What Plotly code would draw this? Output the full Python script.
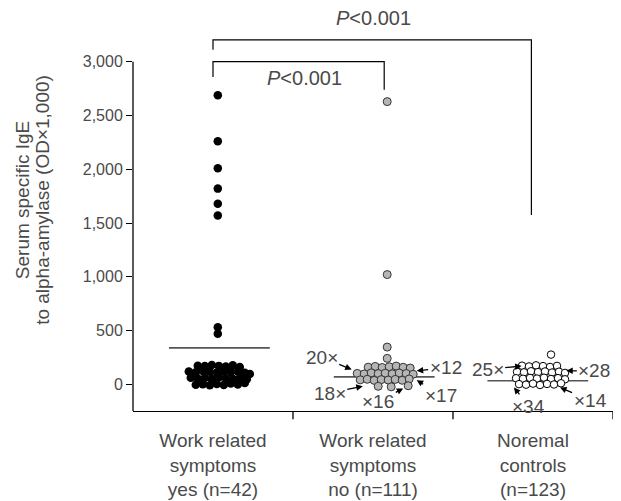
import plotly.graph_objects as go

# ---------------- data ----------------
categories = ["Work related<br>symptoms<br>yes (n=42)",
              "Work related<br>symptoms<br>no (n=111)",
              "Noremal<br>controls<br>(n=123)"]
cat_pos = [0.5, 1.5, 2.5]
group_centers = [0.53, 1.57, 2.55]

ytick_vals = [0, 500, 1000, 1500, 2000, 2500, 3000]

# group 1: work related symptoms yes (values, OD x 1,000)
g1_values = [2690, 2260, 2010, 1820, 1680, 1570, 530, 470,
             172, 168, 178, 170, 165, 175, 160,
             118, 110, 122, 115, 108, 120, 112, 118, 105, 95,
             60, 52, 58, 48, 62, 55, 50, 58, 45,
             -5, 0, -10, 2, -8, 5, -3, 10]
g1_jitter = [0, 0, 0, 0, 0, 0, 0, 0,
             -20, -13, -6, 1, 8, 15, 22,
             -29, -22, -15, -8, -1, 6, 13, 20, 27, 32,
             -27, -20, -13, -6, 1, 8, 15, 22, 29,
             -22, -15, -8, -1, 6, 13, 20, 27]

# group 2: work related symptoms no (visible dots)
g2_values = [2630, 1020, 345, 240,
             158, 165, 155, 162, 168, 157, 150,
             100, 95, 105, 98, 102, 96, 104, 99, 92,
             40, 45, 35, 42, 38, 44, 36, 48,
             -20, -25, -15]
g2_jitter = [3, 3, 3, 3,
             -16, -9, -2, 5, 12, 19, 26,
             -27, -20, -13, -6, 1, 8, 15, 22, 29,
             -24, -17, -10, -3, 4, 11, 18, 25,
             -6, 7, 24]

# group 3: normal controls (visible dots)
g3_values = [275,
             172, 165, 175, 168, 160, 170,
             115, 110, 120, 112, 118, 108, 116, 105,
             55, 50, 58, 52, 60, 48, 56, 45,
             0, -5, 5, -8, 2, -3, 8]
g3_jitter = [10,
             -19, -12, -5, 2, 9, 16,
             -24, -17, -10, -3, 4, 11, 18, 24,
             -25, -18, -11, -4, 3, 10, 17, 24,
             -22, -15, -8, -1, 6, 13, 20]

group_means = [338, 68, 31]
mean_centers = [0.54, 1.57, 2.53]

# multiplicity labels: (text, x, y, ax, ay)
mult_labels = [
    ("20×", 1.367, 137, -30, -12),
    ("×12", 1.773, 124, 29, -3),
    ("18×", 1.436, -19, -33, 7),
    ("×16", 1.689, -40, -25, 13),
    ("×17", 1.773, 37, 24, 15),
    ("25×", 2.429, 168, -34, 3),
    ("×28", 2.708, 124, 28, 0),
    ("×34", 2.381, -31, 15, 19),
    ("×14", 2.669, -31, 30, 13),
]

p_text = "<i>P</i>&lt;0.001"
ytitle_lines = ["Serum specific IgE", "to alpha-amylase (OD×1,000)"]

# ---------------- figure ----------------
PX = 160.0  # pixels per category unit
FONT = "Liberation Sans, Arial, sans-serif"
TXT = "#4a4a4a"

fig = go.Figure()

# mean lines
for c, m in zip(mean_centers, group_means):
    fig.add_trace(go.Scatter(x=[c - 0.315, c + 0.315], y=[m, m], mode="lines",
                             line=dict(color="#555555", width=1.6),
                             hoverinfo="skip", showlegend=False))

fig.add_trace(go.Scatter(
    x=[group_centers[0] + j / PX for j in g1_jitter], y=g1_values,
    mode="markers", marker=dict(size=8.5, color="black", line=dict(width=0)),
    showlegend=False))
fig.add_trace(go.Scatter(
    x=[group_centers[1] + j / PX for j in g2_jitter], y=g2_values,
    mode="markers", marker=dict(size=8, color="#b5b5b5", line=dict(color="#333333", width=1)),
    showlegend=False))
fig.add_trace(go.Scatter(
    x=[group_centers[2] + j / PX for j in g3_jitter], y=g3_values,
    mode="markers", marker=dict(size=7.5, color="white", line=dict(color="black", width=1)),
    showlegend=False))

# brackets
fig.add_trace(go.Scatter(x=[0.5, 0.5, 2.49, 2.49], y=[3112, 3205, 3205, 1574],
                         mode="lines", line=dict(color="black", width=1.2),
                         hoverinfo="skip", showlegend=False))
fig.add_trace(go.Scatter(x=[0.5, 0.5, 1.57, 1.57], y=[2860, 3003, 3003, 2740],
                         mode="lines", line=dict(color="black", width=1.2),
                         hoverinfo="skip", showlegend=False))

annotations = [
    dict(x=1.5, y=1.045, xref="x", yref="paper", text=p_text, showarrow=False,
         xanchor="center", yanchor="middle",
         font=dict(size=20, color=TXT, family=FONT)),
    dict(x=1.07, y=2846, xref="x", yref="y", text=p_text, showarrow=False,
         xanchor="center", yanchor="middle",
         font=dict(size=20, color=TXT, family=FONT)),
    dict(x=-0.231, y=0.561, xref="paper", yref="paper", text=ytitle_lines[0],
         xanchor="center", yanchor="middle",
         textangle=-90, showarrow=False, font=dict(size=19, color=TXT, family=FONT)),
    dict(x=-0.190, y=0.561, xref="paper", yref="paper", text=ytitle_lines[1],
         xanchor="center", yanchor="middle",
         textangle=-90, showarrow=False, font=dict(size=19, color=TXT, family=FONT)),
]
for t, x, y, ax, ay in mult_labels:
    annotations.append(dict(x=x, y=y, xref="x", yref="y", text=t, showarrow=True,
                            ax=ax, ay=ay, arrowhead=2, arrowsize=1, arrowwidth=1.3,
                            arrowcolor="black", standoff=0,
                            font=dict(size=19, color=TXT, family=FONT)))

shapes = [
    dict(type="line", xref="paper", yref="y", x0=0, x1=0, y0=-250, y1=3000,
         line=dict(color="black", width=1.3)),
]
for xv in [1, 2, 3]:
    shapes.append(dict(type="line", xref="x", yref="paper", x0=xv, x1=xv, y0=0, y1=-0.022,
                       line=dict(color="black", width=1.3)))

# page body has an 8px margin, so the figure is 8px smaller each way
fig.update_layout(
    width=613, height=493,
    margin=dict(l=125, r=8, t=27, b=90, autoexpand=False),
    plot_bgcolor="white", paper_bgcolor="white",
    font=dict(family=FONT, color=TXT),
    annotations=annotations, shapes=shapes,
    xaxis=dict(range=[0, 3], tickvals=cat_pos, ticktext=categories, ticks="",
               showline=True, linecolor="black", linewidth=1.3, showgrid=False,
               zeroline=False, automargin=False, ticklabelstandoff=12,
               tickfont=dict(size=19, color=TXT, family=FONT)),
    yaxis=dict(range=[-250, 3250], tickvals=ytick_vals, tickformat=",",
               ticks="outside", ticklen=6, tickcolor="black", tickwidth=1.2,
               showline=False, showgrid=False, zeroline=False, automargin=False,
               tickfont=dict(size=16, color=TXT, family=FONT)),
)

fig.write_html("out.html")
